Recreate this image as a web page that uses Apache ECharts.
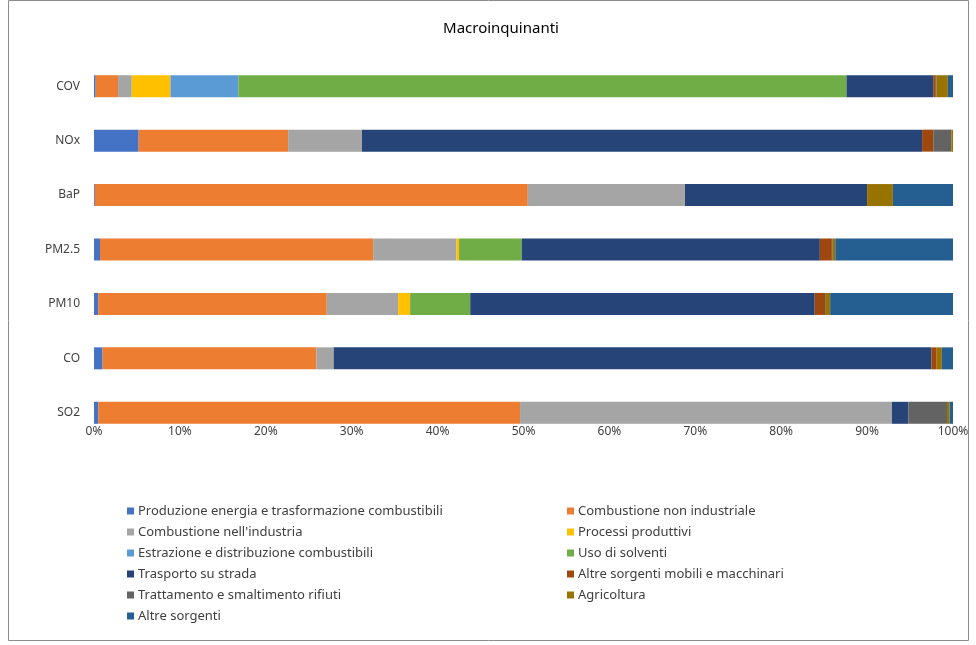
<!DOCTYPE html>
<html>
<head>
<meta charset="utf-8">
<script src="https://cdn.jsdelivr.net/npm/echarts@6/dist/echarts.min.js"></script>
<style>
html,body{margin:0;padding:0;background:#fff;}
#chart{width:976px;height:645px;}
</style>
</head>
<body>
<div id="chart"></div>
<script>
var categories = ['COV', 'NOx', 'BaP', 'PM2.5', 'PM10', 'CO', 'SO2'];
var xTicks = [0, 10, 20, 30, 40, 50, 60, 70, 80, 90, 100];

var produzione   = [0.2, 5.2, 0.1, 0.7, 0.5, 1.0, 0.5];
var combNonInd   = [2.6, 17.4, 50.4, 31.8, 26.6, 24.9, 49.1];
var combInd      = [1.6, 8.6, 18.3, 9.7, 8.3, 2.0, 43.3];
var processi     = [4.5, 0, 0, 0.3, 1.4, 0, 0];
var estrazione   = [7.9, 0, 0, 0, 0, 0, 0];
var solventi     = [70.8, 0, 0, 7.3, 7.0, 0, 0];
var trasporto    = [10.1, 65.2, 21.2, 34.7, 40.1, 69.6, 1.9];
var altreMobili  = [0.3, 1.3, 0, 1.4, 1.2, 0.6, 0];
var trattamento  = [0.1, 2.1, 0, 0.1, 0.1, 0, 4.5];
var agricoltura  = [1.3, 0.2, 3.0, 0.3, 0.5, 0.6, 0.3];
var altreSorgenti= [0.6, 0, 7.0, 13.7, 14.3, 1.3, 0.4];

var seriesNames = [
  'Produzione energia e trasformazione combustibili',
  'Combustione non industriale',
  "Combustione nell'industria",
  'Processi produttivi',
  'Estrazione e distribuzione combustibili',
  'Uso di solventi',
  'Trasporto su strada',
  'Altre sorgenti mobili e macchinari',
  'Trattamento e smaltimento rifiuti',
  'Agricoltura',
  'Altre sorgenti'
];
var seriesData = [produzione, combNonInd, combInd, processi, estrazione, solventi,
                  trasporto, altreMobili, trattamento, agricoltura, altreSorgenti];
var colors = ['#4472C4', '#ED7D31', '#A5A5A5', '#FFC000', '#5B9BD5', '#70AD47',
              '#264478', '#9E480E', '#636363', '#997300', '#255E91'];

var FONT = 'Noto Sans';
var series = seriesNames.map(function (n, i) {
  return {
    name: n, type: 'bar', stack: 'total', barWidth: 22,
    itemStyle: { color: colors[i] },
    emphasis: { disabled: true },
    data: seriesData[i]
  };
});

var leftNames = [0, 2, 4, 6, 8, 10].map(function (i) { return seriesNames[i]; });
var rightNames = [1, 3, 5, 7, 9].map(function (i) { return seriesNames[i]; });
var legendCommon = {
  orient: 'vertical', itemWidth: 7, itemHeight: 7, itemGap: 7,
  icon: 'rect',
  textStyle: { fontFamily: FONT, fontSize: 13, color: '#404040', lineHeight: 14, padding: [0, 0, 0, -1] },
  selectedMode: false
};

var chart = echarts.init(document.getElementById('chart'), null, { renderer: 'canvas' });
chart.setOption({
  animation: false,
  color: colors,
  title: {
    text: 'Macroinquinanti', left: 496, top: 16, textAlign: 'center',
    textStyle: { fontFamily: FONT, fontSize: 15, fontWeight: 'normal', color: '#000' }
  },
  graphic: [{
    type: 'rect', shape: { x: 8.5, y: 0.5, width: 960, height: 640 },
    style: { fill: 'none', stroke: '#8c8c8c', lineWidth: 1 }, silent: true
  }],
  legend: [
    Object.assign({ data: leftNames, left: 122, top: 499 }, legendCommon),
    Object.assign({ data: rightNames, left: 562, top: 499 }, legendCommon)
  ],
  grid: { left: 94, right: 23, top: 59, bottom: 205, containLabel: false },
  xAxis: {
    type: 'value', min: 0, max: 100, interval: 10, offset: -20,
    axisLine: { show: false }, axisTick: { show: false }, splitLine: { show: false },
    axisLabel: {
      fontFamily: FONT, fontSize: 12, color: '#404040', margin: 6,
      formatter: function (v) { return xTicks.indexOf(v) >= 0 ? v + '%' : ''; }
    }
  },
  yAxis: {
    type: 'category', data: categories, inverse: true,
    axisLine: { show: false }, axisTick: { show: false },
    axisLabel: { fontFamily: FONT, fontSize: 12, color: '#404040', margin: 14 }
  },
  series: series
});
</script>
</body>
</html>
